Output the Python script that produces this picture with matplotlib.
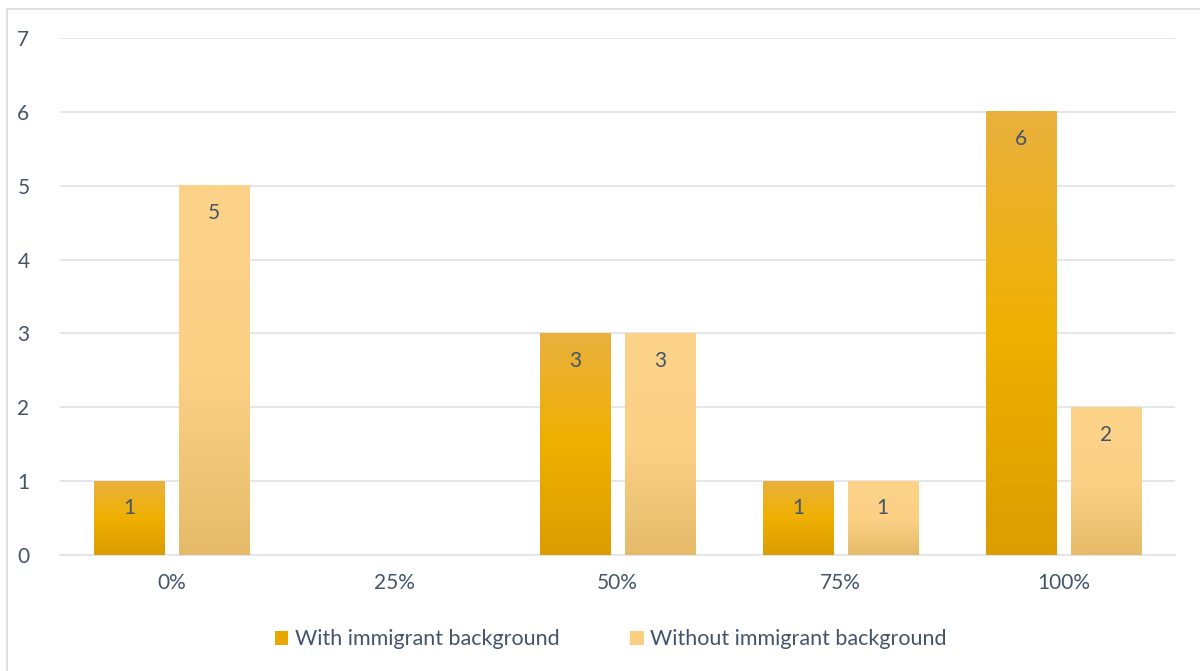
import numpy as np
import matplotlib.pyplot as plt
from matplotlib.colors import LinearSegmentedColormap
from matplotlib.patches import Patch, Rectangle

categories = ['0%', '25%', '50%', '75%', '100%']
with_bg = [1, 0, 3, 1, 6]
without_bg = [5, 0, 3, 1, 2]
series_names = ['With immigrant background', 'Without immigrant background']

plt.rcParams['font.family'] = ['Lato', 'DejaVu Sans']
txt_color = '#44546A'
grid_color = '#E1E4E8'

cmap_dark = LinearSegmentedColormap.from_list('dark', ['#DB9D00', '#EFB000', '#E9B13E'])
cmap_light = LinearSegmentedColormap.from_list('light', ['#E5BB6A', '#FCD186', '#FDD38A'])

fig = plt.figure(figsize=(12, 6.71), dpi=100)
ax = fig.add_axes([0.05, 0.1729, 0.929, 0.7705])

x = np.arange(len(categories))
width = 0.314
off = 0.19

grad = np.linspace(0, 1, 256).reshape(-1, 1)

def gradient_bars(xpos, vals, cmap):
    bars = ax.bar(xpos, vals, width, color='none', edgecolor='none', zorder=3)
    for b, v in zip(bars, vals):
        if v <= 0:
            continue
        x0 = b.get_x()
        ax.imshow(grad, cmap=cmap, origin='lower', aspect='auto',
                  extent=[x0, x0 + b.get_width(), 0, v], zorder=3)
        ax.text(x0 + b.get_width() / 2, v - 0.37, str(v), ha='center', va='center',
                fontsize=15, color=txt_color, zorder=4)
    return bars

gradient_bars(x - off, with_bg, cmap_dark)
gradient_bars(x + off, without_bg, cmap_light)

ax.set_xlim(-0.5, len(categories) - 0.5)
ax.set_ylim(0, 7)
ax.set_yticks(range(0, 8))
ax.set_xticks(x)
ax.set_xticklabels(categories)
ax.yaxis.grid(True, color=grid_color, linewidth=1.3, zorder=0)
ax.set_axisbelow(True)
for s in ['top', 'right', 'left']:
    ax.spines[s].set_visible(False)
ax.spines['bottom'].set_color(grid_color)
ax.spines['bottom'].set_linewidth(1.3)
ax.tick_params(axis='both', length=0, labelsize=15, colors=txt_color)
ax.tick_params(axis='y', pad=22)
ax.tick_params(axis='x', pad=13)

handles = [Patch(facecolor='#E9A800', label=series_names[0]),
           Patch(facecolor='#FCCF80', label=series_names[1])]
fig.legend(handles=handles, loc='center', bbox_to_anchor=(0.509, 0.047), ncol=2,
           frameon=False, fontsize=15.5, labelcolor=txt_color, handlelength=0.62,
           handleheight=0.62, handletextpad=0.3, columnspacing=3.3)

fig.patches.append(Rectangle((7 / 1200, -0.01), 1.1, 1 - 9 / 671 + 0.01,
                             transform=fig.transFigure, fill=False,
                             edgecolor='#D9D9D9', linewidth=1.2))

fig.savefig('out.png', dpi=100)
